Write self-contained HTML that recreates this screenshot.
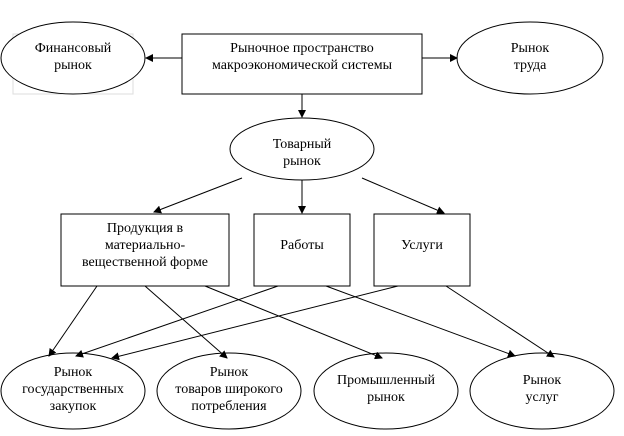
<!DOCTYPE html>
<html><head><meta charset="utf-8"><style>
html,body{margin:0;padding:0;background:#fff;}
svg text{font-family:"Liberation Serif",serif;font-size:14px;fill:#000;text-anchor:middle;}
</style></head><body>
<svg width="624" height="431" viewBox="0 0 624 431" xmlns="http://www.w3.org/2000/svg">
<defs><marker id="a" markerWidth="8" markerHeight="8" refX="7" refY="4" orient="auto" markerUnits="userSpaceOnUse"><path d="M0,0 L8,4 L0,8 z" fill="#000"/></marker></defs>
<rect x="13" y="34" width="120" height="60" fill="none" stroke="#ddd"/>
<g fill="#fff" stroke="#000" stroke-width="1">
<ellipse cx="73" cy="58" rx="72" ry="36"/>
<rect x="182" y="34" width="240" height="60"/>
<ellipse cx="530" cy="58" rx="73" ry="36"/>
<ellipse cx="302" cy="149" rx="72" ry="31"/>
<rect x="61" y="214" width="168" height="72"/>
<rect x="254" y="214" width="96" height="72"/>
<rect x="374" y="214" width="96" height="72"/>
<ellipse cx="73" cy="391" rx="72" ry="38"/>
<ellipse cx="229" cy="391" rx="72" ry="38"/>
<ellipse cx="386" cy="391" rx="72" ry="38"/>
<ellipse cx="542" cy="391" rx="72" ry="38"/>
</g>
<g stroke="#000" stroke-width="1" marker-end="url(#a)">
<line x1="182" y1="58" x2="146" y2="58"/>
<line x1="422" y1="58" x2="457" y2="58"/>
<line x1="302" y1="94" x2="302" y2="117"/>
<line x1="242" y1="178" x2="154" y2="212"/>
<line x1="302" y1="180" x2="302" y2="213"/>
<line x1="362" y1="178" x2="444" y2="213"/>
<line x1="97" y1="286" x2="49" y2="356"/>
<line x1="145" y1="286" x2="227" y2="358"/>
<line x1="205" y1="286" x2="382" y2="358"/>
<line x1="278" y1="286" x2="76" y2="356"/>
<line x1="326" y1="286" x2="515" y2="356"/>
<line x1="398" y1="286" x2="112" y2="358"/>
<line x1="446" y1="286" x2="554" y2="357"/>
</g>
<text x="73" y="52">Финансовый</text><text x="73" y="69">рынок</text>
<text x="302" y="52">Рыночное пространство</text><text x="302" y="69">макроэкономической системы</text>
<text x="530" y="52">Рынок</text><text x="530" y="69">труда</text>
<text x="302" y="148">Товарный</text><text x="302" y="165">рынок</text>
<text x="145" y="232">Продукция в</text><text x="145" y="249">материально-</text><text x="145" y="266">вещественной форме</text>
<text x="302" y="249">Работы</text>
<text x="422" y="249">Услуги</text>
<text x="73" y="376">Рынок</text><text x="73" y="393">государственных</text><text x="73" y="410">закупок</text>
<text x="229" y="376">Рынок</text><text x="229" y="393">товаров широкого</text><text x="229" y="410">потребления</text>
<text x="386" y="384">Промышленный</text><text x="386" y="401">рынок</text>
<text x="542" y="384">Рынок</text><text x="542" y="401">услуг</text>
</svg>
</body></html>
